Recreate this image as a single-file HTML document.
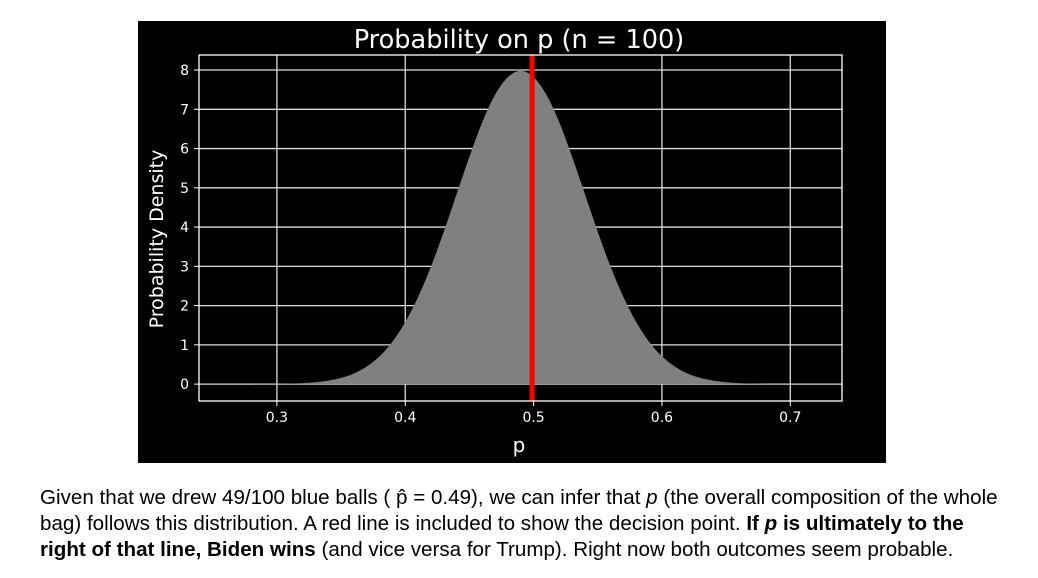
<!DOCTYPE html>
<html><head><meta charset="utf-8"><style>
body{margin:0;width:1038px;height:578px;background:#fff;overflow:hidden;position:relative}
#chart{position:absolute;left:138px;top:21px}
#cap{position:absolute;left:40px;top:485px;width:975px;font-family:"Liberation Sans",sans-serif;font-size:20.6px;line-height:26px;color:#000}
</style></head><body>
<svg id="chart" width="748" height="442" xmlns="http://www.w3.org/2000/svg"></svg>
<div id="cap">Given that we drew 49/100 blue balls ( p̂ = 0.49), we can infer that <i>p</i> (the overall composition of the whole bag) follows this distribution. A red line is included to show the decision point. <b>If <i>p</i> is ultimately to the right of that line, Biden wins</b> (and vice versa for Trump). Right now both outcomes seem probable.</div>
<script>
const xs=[0.24,0.25,0.26,0.27,0.28,0.29,0.30,0.31,0.32,0.33,0.34,0.35,0.36,0.37,0.38,0.39,0.40,0.41,0.42,0.43,0.44,0.45,0.46,0.47,0.48,0.49,0.50,0.51,0.52,0.53,0.54,0.55,0.56,0.57,0.58,0.59,0.60,0.61,0.62,0.63,0.64,0.65,0.66,0.67,0.68,0.69,0.70,0.71,0.72,0.73,0.74];
const density=[0,0,0.0003,0.0007,0.0014,0.003,0.006,0.012,0.025,0.048,0.089,0.158,0.27,0.45,0.71,1.08,1.58,2.22,2.99,3.88,4.84,5.79,6.67,7.37,7.82,7.98,7.82,7.37,6.67,5.79,4.84,3.88,2.99,2.22,1.58,1.08,0.71,0.45,0.27,0.158,0.089,0.048,0.025,0.012,0.006,0.003,0.0014,0.0007,0.0003,0,0];
const xTicks=[0.3,0.4,0.5,0.6,0.7];
const xTickLabels=["0.3","0.4","0.5","0.6","0.7"];
const yTicks=[0,1,2,3,4,5,6,7,8];
const decision=[0.5];
const NS="http://www.w3.org/2000/svg";
const svg=document.getElementById('chart');
const L=61,R=704,T=34,B=380;
const x0=0.2393,x1=0.7403,y0=-0.43,y1=8.383;
const sx=v=>L+(v-x0)/(x1-x0)*(R-L);
const sy=v=>B-(v-y0)/(y1-y0)*(B-T);
function mk(t,a){const e=document.createElementNS(NS,t);for(const k in a)e.setAttribute(k,a[k]);svg.appendChild(e);return e;}
let bg=mk('rect',{x:0,y:0,width:748,height:442,fill:'#000'});


let title=mk('text',{x:381,y:27,fill:'#fff','font-family':'DejaVu Sans,sans-serif','font-size':25.6,'text-anchor':'middle'});title.textContent='Probability on p (n = 100)';


xTicks.forEach((v,i)=>{const X=sx(v);
let g=mk('line',{x1:X,x2:X,y1:T,y2:B,stroke:'#ddd','stroke-width':1.3});


mk('line',{x1:X,x2:X,y1:B,y2:B+5,stroke:'#fff'});
let t=mk('text',{x:X,y:B+21,fill:'#fff','font-family':'DejaVu Sans,sans-serif','font-size':14,'text-anchor':'middle'});t.textContent=xTickLabels[i];

});
yTicks.forEach(v=>{const Y=sy(v);
let g=mk('line',{x1:L,x2:R,y1:Y,y2:Y,stroke:'#ddd','stroke-width':1.3});


mk('line',{x1:L-5,x2:L,y1:Y,y2:Y,stroke:'#fff'});
let t=mk('text',{x:L-10,y:Y+5,fill:'#fff','font-family':'DejaVu Sans,sans-serif','font-size':14,'text-anchor':'end'});t.textContent=v;

});
const P=xs.map((v,i)=>[sx(v),sy(density[i])]);
let d='M'+P[0][0]+','+sy(0)+'L'+P[0][0]+','+P[0][1];
for(let i=0;i<P.length-1;i++){const p0=P[Math.max(0,i-1)],p1=P[i],p2=P[i+1],p3=P[Math.min(P.length-1,i+2)];
d+='C'+(p1[0]+(p2[0]-p0[0])/6)+','+(p1[1]+(p2[1]-p0[1])/6)+' '+(p2[0]-(p3[0]-p1[0])/6)+','+(p2[1]-(p3[1]-p1[1])/6)+' '+p2[0]+','+p2[1];}
d+='L'+P[P.length-1][0]+','+sy(0)+'Z';
let area=mk('path',{d:d,fill:'#808080'});


decision.forEach(v=>{let r=mk('line',{x1:sx(v)-1.5,x2:sx(v)-1.5,y1:T,y2:B,stroke:'#f00','stroke-width':5});

});
let fr=mk('rect',{x:L,y:T,width:R-L,height:B-T,fill:'none',stroke:'#fff','stroke-width':1.3});


let xl=mk('text',{x:381,y:431,fill:'#fff','font-family':'DejaVu Sans,sans-serif','font-size':20,'text-anchor':'middle'});xl.textContent='p';


let yl=mk('text',{x:0,y:0,fill:'#fff','font-family':'DejaVu Sans,sans-serif','font-size':19,'text-anchor':'middle',transform:'translate(25,218) rotate(-90)'});yl.textContent='Probability Density';


</script>
</body></html>
